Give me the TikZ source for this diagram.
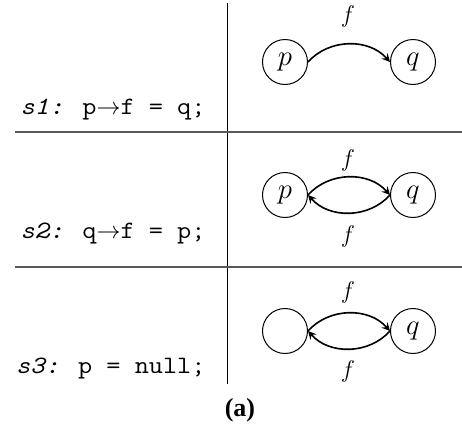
\documentclass[tikz,border=0pt]{standalone}
\usepackage{fontspec}
\newfontfamily\timesfont{Liberation Serif}
\newfontfamily\codefont{Latin Modern Mono}[FakeStretch=1.1]
\usetikzlibrary{arrows, positioning}
\tikzstyle{arrow} = [line width=0.8pt,->,>=stealth]
\tikzstyle{cell} = [circle, draw=black, line width=0.5pt, minimum size=22.5pt, inner sep=0pt, font=\fontsize{14.5}{16}\selectfont]
\tikzstyle{stmt} = [anchor=base east, inner sep=0pt, font=\fontsize{12.5}{14}\selectfont\codefont]
\tikzstyle{field} = [inner sep=0pt, font=\fontsize{13}{15}\selectfont]
\tikzstyle{hrule} = [line width=0.75pt, draw=black!65]

\begin{document}
\begin{tikzpicture}[x=0.5pt, y=-0.5pt, node distance=64pt]
\useasboundingbox (0,0) rectangle (462,429);

% Table frame
\coordinate (top) at (228,3);
\coordinate (bottom) at (228,384);
\coordinate (rowA-l) at (15,132);
\coordinate (rowA-r) at (462,132);
\coordinate (rowB-l) at (15,267);
\coordinate (rowB-r) at (462,267);
\draw [line width=0.5pt] (top) -- (bottom);
\draw [hrule] (rowA-l) -- (rowA-r);
\draw [hrule] (rowB-l) -- (rowB-r);

% Statements
\node (stmt1) [stmt] at (206,114) {\textit{s1:} p$\rightarrow$f = q;};
\node (stmt2) [stmt] at (206,238) {\textit{s2:} q$\rightarrow$f = p;};
\node (stmt3) [stmt] at (206,373) {\textit{s3:} p = null;};

% Heap after s1
\node (p1) [cell] at (285,62) {$p$};
\node (q1) [cell, right of=p1] {$q$};
\node (f1) [field] at (348,16) {$f$};
\draw [arrow] (p1.east) to[out=48,in=132] (q1.west);

% Heap after s2
\node (p2) [cell] at (285,195) {$p$};
\node (q2) [cell, right of=p2] {$q$};
\node (f2a) [field] at (348,160) {$f$};
\node (f2b) [field] at (348,236) {$f$};
\draw [arrow] (p2.east) to[out=48,in=132] (q2.west);
\draw [arrow] (q2.west) to[out=228,in=-48] (p2.east);

% Heap after s3
\node (p3) [cell] at (285,331) {};
\node (q3) [cell, right of=p3] {$q$};
\node (f3a) [field] at (348,292) {$f$};
\node (f3b) [field] at (348,371) {$f$};
\draw [arrow] (p3.east) to[out=48,in=132] (q3.west);
\draw [arrow] (q3.west) to[out=228,in=-48] (p3.east);

% Caption
\node (caption) [font=\fontsize{13}{15}\selectfont\timesfont\bfseries] at (240,410) {(a)};

\end{tikzpicture}
\end{document}
